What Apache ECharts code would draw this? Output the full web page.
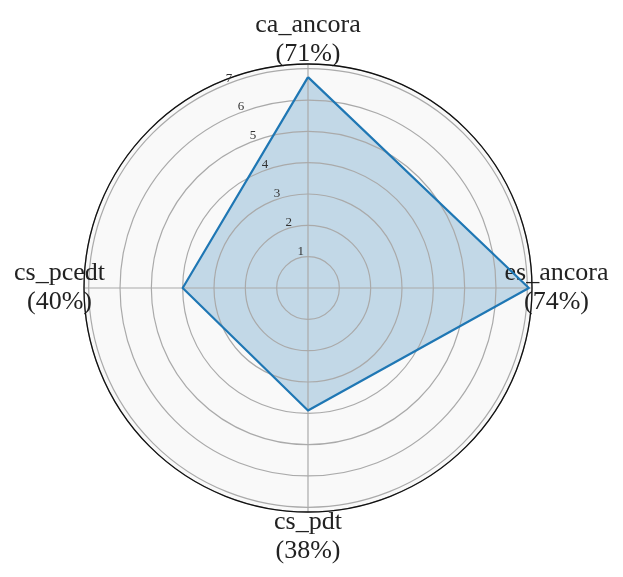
<!DOCTYPE html>
<html>
<head>
<meta charset="utf-8">
<script src="https://cdn.jsdelivr.net/npm/echarts@6/dist/echarts.min.js"></script>
<style>
  html, body { margin: 0; padding: 0; background: #fff; }
  #chart { width: 623px; height: 577px; }
</style>
</head>
<body>
<div id="chart"></div>
<script>
// order goes counterclockwise from the top, like the radar does
const categories = ['ca_ancora', 'cs_pcedt', 'cs_pdt', 'es_ancora'];
const percents = [71, 40, 38, 74];
const values = [6.73, 4.0, 3.91, 7.05];
const rMax = 7.15;

const center = [308, 288];
const radius = 224;
const serif = '"Liberation Serif", "DejaVu Serif", serif';
const step = 360 / categories.length;

const chart = echarts.init(document.getElementById('chart'));
chart.setOption({
  backgroundColor: '#fff',
  animation: false,
  polar: [
    { center: center, radius: radius },
    { center: center, radius: radius }
  ],
  angleAxis: [
    {
      polarIndex: 0,
      type: 'value',
      min: 0,
      max: 360,
      interval: step,
      startAngle: 90,
      clockwise: false,
      z: 2,
      axisLine: { show: true, lineStyle: { color: '#111', width: 1.3 } },
      axisTick: { show: false },
      splitLine: { show: true, lineStyle: { color: '#aaaaaa', width: 1.2 } },
      axisLabel: {
        margin: -4.5,
        color: '#222',
        formatter: v => {
          const i = Math.round(v / step);
          if (i >= categories.length) return '';
          return '{a|' + categories[i] + '}\n{a|(' + percents[i] + '%)}';
        },
        rich: {
          a: { width: 58, align: 'center', fontFamily: serif, fontSize: 26, lineHeight: 29, color: '#222' }
        }
      }
    },
    {
      polarIndex: 1,
      type: 'value',
      min: 0,
      max: 360,
      startAngle: 112.5,
      show: false
    }
  ],
  radiusAxis: [
    {
      polarIndex: 0,
      type: 'value',
      min: 0,
      max: rMax,
      interval: 1,
      z: 0,
      axisLine: { show: false },
      axisTick: { show: false },
      axisLabel: { show: false },
      splitLine: { show: false },
      splitArea: { show: true, areaStyle: { color: ['#f9f9f9'] } }
    },
    {
      polarIndex: 1,
      type: 'value',
      min: 0,
      max: rMax,
      interval: 1,
      z: 2,
      axisLine: { show: false },
      axisTick: { show: false },
      splitLine: { show: true, lineStyle: { color: '#aaaaaa', width: 1.2 } },
      axisLabel: {
        showMinLabel: false,
        showMaxLabel: false,
        margin: -2,
        align: 'center',
        verticalAlign: 'bottom',
        padding: [0, 0, 0, 6],
        fontFamily: serif,
        fontSize: 13,
        color: '#333'
      }
    }
  ],
  radar: {
    center: center,
    radius: radius,
    shape: 'circle',
    startAngle: 90,
    indicator: categories.map(c => ({ name: c, min: 0, max: rMax })),
    axisName: { show: false },
    axisLine: { show: false },
    axisTick: { show: false },
    splitLine: { show: false },
    splitArea: { show: false }
  },
  series: [
    {
      // fill sits under the grid
      type: 'radar',
      z: 1,
      symbol: 'none',
      lineStyle: { width: 0, opacity: 0 },
      areaStyle: { color: '#1f77b4', opacity: 0.25 },
      data: [{ value: values }]
    },
    {
      // outline sits over the grid
      type: 'radar',
      z: 3,
      symbol: 'none',
      lineStyle: { color: '#1f77b4', width: 2.2 },
      data: [{ value: values }]
    }
  ]
});
</script>
</body>
</html>
